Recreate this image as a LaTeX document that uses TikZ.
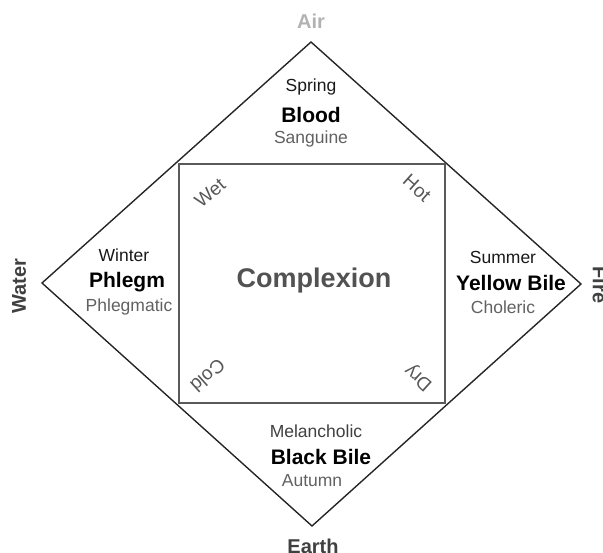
\documentclass[tikz,border=0pt]{standalone}
\usepackage{fontspec}
\setmainfont{Liberation Sans}
\begin{document}
\begin{tikzpicture}[x=1pt,y=-1pt,
  small/.style={font=\fontsize{17.5}{20}\selectfont, inner sep=0pt},
  humour/.style={font=\fontsize{21}{24}\selectfont\bfseries, inner sep=0pt},
  element/.style={font=\fontsize{20}{24}\selectfont\bfseries, inner sep=0pt},
  quality/.style={font=\fontsize{19}{21}\selectfont, text=black!66, inner sep=0pt},
  edge/.style={draw=black!85, line width=1.4pt, line join=miter},
  box/.style={draw=black!65, line width=2pt}]
\useasboundingbox (0,0) rectangle (603,553);
\clip (0,0) rectangle (603,553);
% diamond
\coordinate (T) at (311,42);
\coordinate (L) at (42,283);
\coordinate (R) at (581,284);
\coordinate (B) at (312,526);
\draw[edge] (T) -- (R) -- (B) -- (L) -- cycle;
% square
\node[box, minimum width=266pt, minimum height=239pt, inner sep=0pt] (sq) at (312,283.5) {};
% elements
\node[element, text=black!30] (air) at (311,21) {Air};
\node[element, text=black!75, rotate=90] (water) at (19,286) {Water};
\node[element, text=black!75, rotate=-90] (fire) at (600,285) {Fire};
\node[element, text=black!75] (earth) at (313,546) {Earth};
% top
\node[small, text=black!90] (spring) at (311,87) {Spring};
\node[humour] (blood) at (311,115) {Blood};
\node[small, text=black!62] (sanguine) at (311,139) {Sanguine};
% left
\node[small, text=black!90] (winter) at (124,255) {Winter};
\node[humour] (phlegm) at (127,282) {Phlegm};
\node[small, text=black!62] (phlegmatic) at (129,307) {Phlegmatic};
% right
\node[small, text=black!90] (summer) at (503,257) {Summer};
\node[humour] (yellow) at (511,283) {Yellow Bile};
\node[small, text=black!62] (choleric) at (503,307) {Choleric};
% bottom
\node[small, text=black!75] (melan) at (316,431) {Melancholic};
\node[humour] (black) at (321,457) {Black Bile};
\node[small, text=black!62] (autumn) at (312,481) {Autumn};
% centre
\node[font=\fontsize{27}{30}\selectfont\bfseries, text=black!68, inner sep=0pt] (complexion) at (314,281) {Complexion};
% qualities
\node[quality, rotate=40] (wet) at (210,193) {Wet};
\node[quality, rotate=-42] (hot) at (417,188) {Hot};
\node[quality, rotate=-138] (cold) at (208,376) {Cold};
\node[quality, rotate=138] (dry) at (419,377) {Dry};
\end{tikzpicture}
\end{document}
